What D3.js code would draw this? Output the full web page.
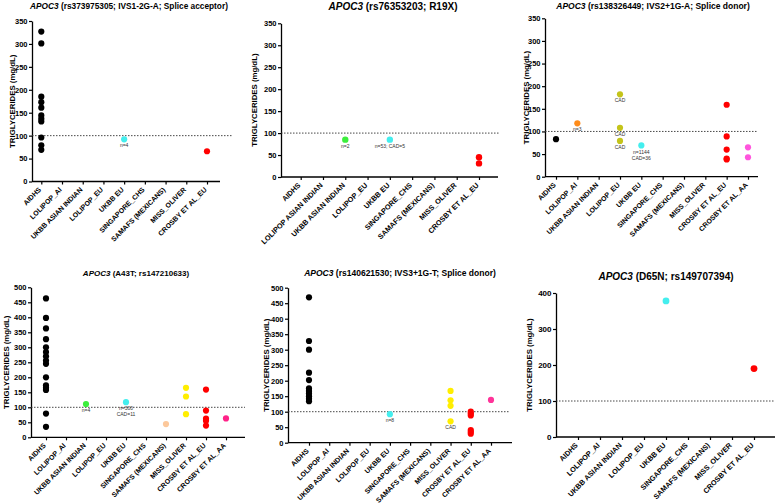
<!DOCTYPE html>
<html>
<head>
<meta charset="utf-8">
<script src="https://cdn.jsdelivr.net/npm/d3@7"></script>
<style>
body { margin: 0; background: #fff; }
text { font-family: "Liberation Sans", Arial, sans-serif; }
</style>
</head>
<body>
<script>
// category lists
var cats9 = ["AIDHS", "LOLIPOP_AI", "UKBB ASIAN INDIAN", "LOLIPOP_EU", "UKBB EU",
             "SINGAPORE_CHS", "SAMAFS (MEXICANS)", "MISS_OLIVER", "CROSBY ET AL_EU"];
var cats9b = ["AIDHS", "LOLIPOP ASIAN INDIAN", "UKBB ASIAN INDIAN", "LOLIPOP_EU", "UKBB EU",
              "SINGAPORE_CHS", "SAMAFS (MEXICANS)", "MISS_OLIVER", "CROSBY ET AL_EU"];
var cats10 = cats9.concat(["CROSBY ET AL_AA"]);

// triglyceride values per cohort (mg/dL), one list per panel
var ivs1Values = [
  ["AIDHS", [327, 301, 185, 173, 161, 144, 137, 131, 96, 79, 69]],
  ["UKBB EU", [92]],
  ["CROSBY ET AL_EU", [66]]
];
var r19xValues = [
  ["UKBB ASIAN INDIAN", [85]],
  ["UKBB EU", [85]],
  ["CROSBY ET AL_EU", [45, 31]]
];
var ivs2Values = [
  ["AIDHS", [83]],
  ["LOLIPOP_AI", [118]],
  ["LOLIPOP_EU", [182, 108, 79]],
  ["UKBB EU", [69]],
  ["CROSBY ET AL_EU", [159, 89, 60, 40, 38]],
  ["CROSBY ET AL_AA", [65, 43]]
];
var a43tValues = [
  ["AIDHS", [463, 398, 363, 327, 300, 284, 270, 256, 245, 200, 173, 165, 158, 79, 35]],
  ["UKBB ASIAN INDIAN", [111]],
  ["UKBB EU", [117]],
  ["SAMAFS (MEXICANS)", [44]],
  ["MISS_OLIVER", [165, 136, 77]],
  ["CROSBY ET AL_EU", [159, 89, 62, 55, 39]],
  ["CROSBY ET AL_AA", [63]]
];
var ivs3Values = [
  ["AIDHS", [469, 328, 300, 226, 202, 175, 167, 159, 150, 142, 134]],
  ["UKBB EU", [92]],
  ["MISS_OLIVER", [167, 137, 119, 69]],
  ["CROSBY ET AL_EU", [100, 94, 88, 41, 35, 29]],
  ["CROSBY ET AL_AA", [138]]
];
var d65nValues = [
  ["UKBB EU", [378]],
  ["CROSBY ET AL_EU", [190]]
];

// notes printed under points: [category, value, lines]
var ivs1Notes = [["UKBB EU", 92, ["n=4"]]];
var r19xNotes = [["UKBB ASIAN INDIAN", 85, ["n=2"]], ["UKBB EU", 85, ["n=53; CAD=5"]]];
var ivs2Notes = [["LOLIPOP_AI", 118, ["n=3"]], ["LOLIPOP_EU", 182, ["CAD"]],
                 ["LOLIPOP_EU", 108, ["CAD"]], ["LOLIPOP_EU", 79, ["CAD"]],
                 ["UKBB EU", 69, ["n=1144", "CAD=36"]]];
var a43tNotes = [["UKBB ASIAN INDIAN", 111, ["n=4"]], ["UKBB EU", 117, ["n=300", "CAD=11"]]];
var ivs3Notes = [["UKBB EU", 92, ["n=8"]], ["MISS_OLIVER", 69, ["CAD"]]];

var colors = {
  "AIDHS": "#000000",
  "LOLIPOP_AI": "#ff8c1a",
  "UKBB ASIAN INDIAN": "#3cee3c",
  "LOLIPOP_EU": "#c4c41a",
  "UKBB EU": "#44eeee",
  "SAMAFS (MEXICANS)": "#fcc89b",
  "MISS_OLIVER": "#ffee00",
  "CROSBY ET AL_EU": "#ff0000",
  "CROSBY ET AL_AA": "#ff55dd"
};

var svg = d3.select("body").append("svg")
    .attr("width", 778)
    .attr("height", 504);

var panels = [
  {title: "(rs373975305; IVS1-2G-A; Splice acceptor)", cats: cats9, values: ivs1Values, notes: ivs1Notes,
   max: 350, step: 50, x0: 32, xEnd: 220, lineEnd: 233, y0: 181.5, yTop: 21, first: 41.3, last: 207,
   tx: 129, ty: 8.5, tsize: 8.3, lx: 15, tick: 7.5, cat: 7, r: 3.1},
  {title: "(rs76353203; R19X)", cats: cats9b, values: r19xValues, notes: r19xNotes,
   max: 350, step: 50, x0: 281, xEnd: 498, lineEnd: 500, y0: 177, yTop: 23.3, first: 300.7, last: 479,
   tx: 393, ty: 9.5, tsize: 10, lx: 257, tick: 7.5, cat: 7.3, r: 3.2},
  {title: "(rs138326449; IVS2+1G-A; Splice donor)", cats: cats10, values: ivs2Values, notes: ivs2Notes,
   max: 350, step: 50, x0: 545, xEnd: 758, lineEnd: 757, y0: 176.7, yTop: 18.3, first: 556, last: 748,
   tx: 653, ty: 8.5, tsize: 8.5, lx: 529, tick: 7.5, cat: 7, r: 3.1},
  {title: "(A43T; rs147210633)", cats: cats10, values: a43tValues, notes: a43tNotes,
   max: 500, step: 50, x0: 31, xEnd: 245, lineEnd: 245, y0: 437.3, yTop: 287.3, first: 46, last: 226,
   tx: 136, ty: 276, tsize: 8, lx: 9, tick: 7.5, cat: 7, r: 3.1, aa: "#ff2288"},
  {title: "(rs140621530; IVS3+1G-T; Splice donor)", cats: cats10, values: ivs3Values, notes: ivs3Notes,
   max: 500, step: 50, x0: 288, xEnd: 512, lineEnd: 510, y0: 442.7, yTop: 287.7, first: 309, last: 491,
   tx: 400, ty: 276, tsize: 8.5, lx: 269, tick: 7.5, cat: 7, r: 3.1, aa: "#ff3399"},
  {title: "(D65N; rs149707394)", cats: cats9, values: d65nValues, notes: [],
   max: 400, step: 100, x0: 556, xEnd: 775, lineEnd: 775, y0: 437, yTop: 293, first: 578, last: 754,
   tx: 666, ty: 280, tsize: 10, lx: 532, tick: 8, cat: 7.3, r: 3.4}
];

panels.forEach(drawPanel);

function drawPanel(p) {
  var y = d3.scaleLinear().domain([0, p.max]).range([p.y0, p.yTop]);
  var x = d3.scalePoint().domain(p.cats).range([p.first, p.last]);
  var g = svg.append("g");

  // title, gene name in italics
  var t = g.append("text")
      .attr("x", p.tx)
      .attr("y", p.ty)
      .attr("text-anchor", "middle")
      .style("font-size", p.tsize + "px")
      .style("font-weight", "bold");
  t.append("tspan").style("font-style", "italic").text("APOC3");
  t.append("tspan").text(" " + p.title);

  // y axis
  var yAxis = g.append("g")
      .attr("transform", "translate(" + p.x0 + ",0)")
      .call(d3.axisLeft(y).tickValues(d3.range(0, p.max + 1, p.step)).tickSize(3).tickSizeOuter(0).tickPadding(1.5));
  yAxis.select(".domain").attr("stroke-width", 1.3);
  yAxis.selectAll(".tick line").attr("stroke-width", 1.2);
  yAxis.selectAll("text")
      .style("font-size", p.tick + "px")
      .style("font-weight", "bold")
      .attr("fill", "#000");

  g.append("text")
      .attr("transform", "translate(" + p.lx + "," + ((p.y0 + p.yTop) / 2) + ") rotate(-90)")
      .attr("text-anchor", "middle")
      .style("font-size", "7.8px")
      .style("font-weight", "bold")
      .text("TRIGLYCERIDES (mg/dL)");

  // x axis
  var xAxis = g.append("g")
      .attr("transform", "translate(0," + p.y0 + ")")
      .call(d3.axisBottom(x).tickSize(3).tickSizeOuter(0));
  xAxis.select(".domain").remove();
  xAxis.append("line")
      .attr("x1", p.x0).attr("x2", p.xEnd)
      .attr("stroke", "#000").attr("stroke-width", 1.3);
  xAxis.selectAll(".tick line").attr("stroke-width", 1.2);
  xAxis.selectAll(".tick text")
      .attr("x", 0).attr("y", 0).attr("dy", "0.35em")
      .attr("transform", "translate(-2,7) rotate(-45)")
      .attr("text-anchor", "end")
      .attr("fill", "#000")
      .style("font-size", p.cat + "px")
      .style("font-weight", "bold");

  // reference line at 100 mg/dL
  g.append("line")
      .attr("x1", p.x0).attr("x2", p.lineEnd)
      .attr("y1", y(100)).attr("y2", y(100))
      .attr("stroke", "#333")
      .attr("stroke-width", 0.9)
      .attr("stroke-dasharray", "1.5,1.5");

  // points
  var pts = [];
  p.values.forEach(function(s) {
    s[1].forEach(function(v) { pts.push({cat: s[0], v: v}); });
  });
  g.selectAll("circle.dot")
      .data(pts)
    .enter().append("circle")
      .attr("class", "dot")
      .attr("cx", function(d) { return x(d.cat); })
      .attr("cy", function(d) { return y(d.v); })
      .attr("r", p.r)
      .attr("fill", function(d) {
        if (d.cat === "CROSBY ET AL_AA" && p.aa) return p.aa;
        return colors[d.cat];
      });

  // small notes under points
  p.notes.forEach(function(n) {
    n[2].forEach(function(line, i) {
      g.append("text")
          .attr("x", x(n[0]))
          .attr("y", y(n[1]) + p.r + 5 + i * 6)
          .attr("text-anchor", "middle")
          .attr("fill", "#333")
          .style("font-size", "5px")
          .text(line);
    });
  });
}
</script>
</body>
</html>
